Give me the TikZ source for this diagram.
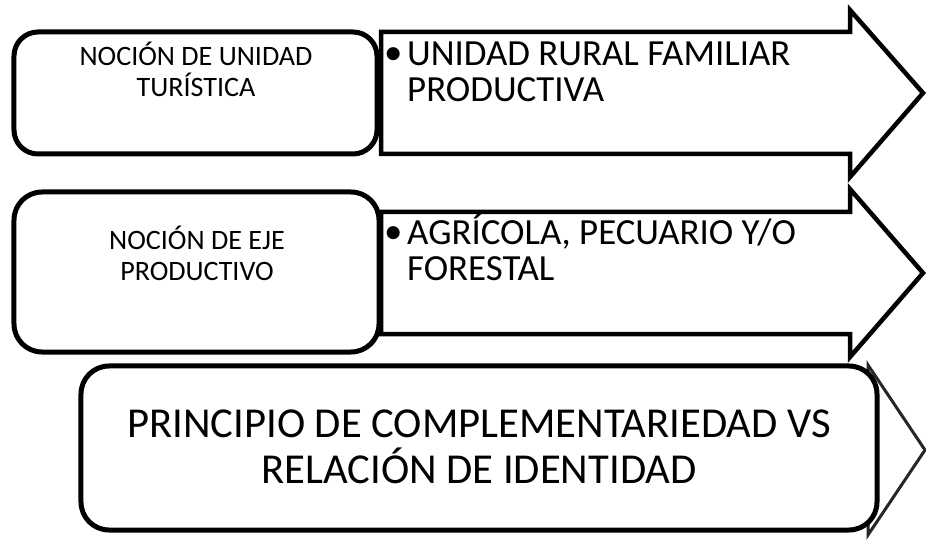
\documentclass[tikz,border=0pt]{standalone}
\usepackage{fontspec}
\setmainfont{Carlito}
\begin{document}
\begin{tikzpicture}[x=1bp,y=-1bp]
\tikzset{
  bigarrow/.style={draw=black, fill=white, line width=4.5bp, line join=miter, miter limit=10},
  thinarrow/.style={draw=black!85, fill=white, line width=3bp, line join=miter, miter limit=10},
  boxshape/.style={draw=black, fill=white, line width=5bp, rounded corners=24bp, inner sep=0pt},
  boxtxt/.style={font=\fontsize{28.2}{32}\selectfont, align=center, inner sep=0pt},
  arrtxt/.style={font=\fontsize{37}{37}\selectfont, align=left, inner sep=0pt},
  bigtxt/.style={font=\fontsize{42.8}{46}\selectfont, align=center, inner sep=0pt}
}
\useasboundingbox (0,0) rectangle (926,540);
% arrows
\draw[thinarrow] (120,408) -- (868,408) -- (868,365) -- (925,450) -- (868,535) -- (868,492) -- (120,492) -- cycle;
\draw[bigarrow] (381,32) -- (850,32) -- (850,10) -- (923,93) -- (850,177) -- (850,154) -- (381,154) -- cycle;
\draw[bigarrow] (381,212) -- (850,212) -- (850,189) -- (923,273) -- (850,357) -- (850,334) -- (381,334) -- cycle;
% boxes
\node[boxshape, minimum width=363bp, minimum height=122bp] (b1) at (195.5,93) {};
\node[boxshape, minimum width=365bp, minimum height=160bp, rounded corners=28bp] (b2) at (196.5,272) {};
\node[boxshape, minimum width=796bp, minimum height=164bp, rounded corners=28bp] (b3) at (479,448) {};
% texts (base anchor = last line)
\node[boxtxt, anchor=base] (t1) at (196,97) {NOCIÓN DE UNIDAD\\TURÍSTICA};
\node[boxtxt, anchor=base] (t2) at (197,281) {NOCIÓN DE EJE\\PRODUCTIVO};
\node[bigtxt, anchor=base] (t3) at (479,483) {PRINCIPIO DE COMPLEMENTARIEDAD VS\\RELACIÓN DE IDENTIDAD};
\node[arrtxt, anchor=base west] (p1) at (384,65) {•};
\node[arrtxt, anchor=base west] (a1) at (407,102) {UNIDAD RURAL FAMILIAR\\PRODUCTIVA};
\node[arrtxt, anchor=base west] (p2) at (384,244) {•};
\node[arrtxt, anchor=base west] (a2) at (407,281) {AGRÍCOLA, PECUARIO Y/O\\FORESTAL};
\end{tikzpicture}
\end{document}
